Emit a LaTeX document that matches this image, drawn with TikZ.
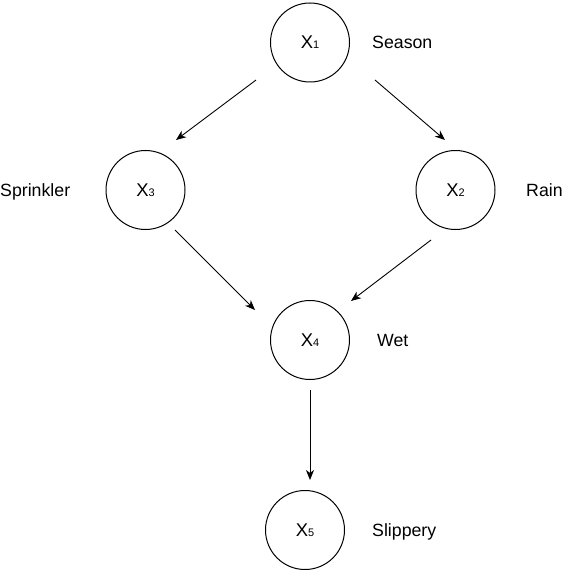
\documentclass[tikz,border=0pt]{standalone}
\usepackage{fontspec}
\setmainfont{Liberation Sans}
\usetikzlibrary{arrows.meta}

\newcommand{\sub}[1]{{\fontsize{11}{11}\selectfont #1}}

\begin{document}
\begin{tikzpicture}[x=1bp,y=-1bp,
  var/.style={draw,circle,line width=1bp,minimum size=79bp,inner sep=0pt,
    font=\fontsize{18.5}{20}\selectfont},
  lbl/.style={inner sep=0pt,anchor=base west,font=\fontsize{17.8}{20}\selectfont},
  edge/.style={-{Stealth[length=10bp,width=8bp,inset=3bp]},line width=0.9bp}]
 \useasboundingbox (0,0) rectangle (566,571);

 \node [var] (x1) at (310,42.5) {X\sub{1}};
 \node [var] (x3) at (145.5,190) {X\sub{3}};
 \node [var] (x2) at (455.5,190) {X\sub{2}};
 \node [var] (x4) at (310,340) {X\sub{4}};
 \node [var] (x5) at (305,530) {X\sub{5}};

 \node [lbl] (season) at (372,49) {Season};
 \node [lbl] (sprinkler) at (0,196.5) {Sprinkler};
 \node [lbl] (rain) at (526,196.5) {Rain};
 \node [lbl] (wet) at (377,346.5) {Wet};
 \node [lbl] (slippery) at (372,536.5) {Slippery};

 % free arrow ends, set off from the circles
 \path (x1) ++(-54,37.5) coordinate (s13);
 \path (x3) ++(30.5,-50) coordinate (e13);
 \path (x1) ++(65,37.5) coordinate (s12);
 \path (x2) ++(-10.5,-50) coordinate (e12);
 \path (x3) ++(29.5,40) coordinate (s34);
 \path (x4) ++(-55,-30) coordinate (e34);
 \path (x2) ++(-24.5,50) coordinate (s24);
 \path (x4) ++(41,-39) coordinate (e24);
 \path (x4) ++(0,50) coordinate (s45);
 \path (x5) ++(5,-50) coordinate (e45);

 \draw [edge] (s13) -- (e13);
 \draw [edge] (s12) -- (e12);
 \draw [edge] (s34) -- (e34);
 \draw [edge] (s24) -- (e24);
 \draw [edge] (s45) -- (e45);
\end{tikzpicture}
\end{document}
